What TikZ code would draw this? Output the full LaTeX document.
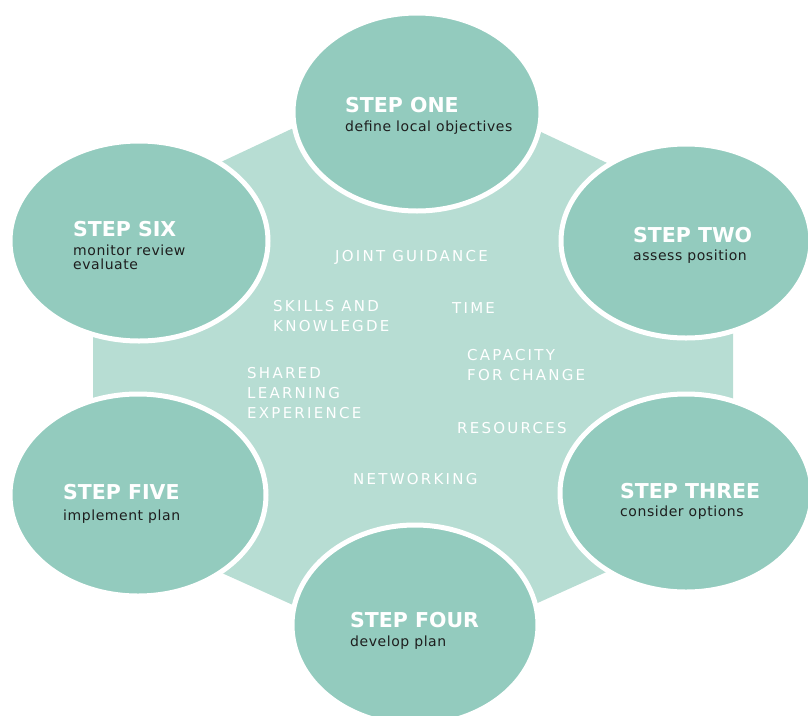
\documentclass[tikz,border=0pt]{standalone}
\usepackage{fontspec}
\setmainfont{DejaVu Sans}
\newfontfamily\headfont{DejaVu Sans}
\newfontfamily\subfont[LetterSpace=4]{DejaVu Sans}
\newfontfamily\midfont[LetterSpace=15]{DejaVu Sans}
\usetikzlibrary{shapes.geometric}
\definecolor{stepfill}{HTML}{93CBBE}
\definecolor{hexfill}{HTML}{B7DDD3}
\definecolor{subtext}{HTML}{1E1E1E}
\tikzset{
  stepell/.style={ellipse, fill=stepfill, draw=white, line width=5pt, inner sep=0pt},
  heading/.style={anchor=base west, inner sep=0pt, text=white, font=\headfont\fontsize{20.5}{24}\selectfont\bfseries},
  subline/.style={anchor=base west, inner sep=0pt, text=subtext, font=\subfont\fontsize{14}{16}\selectfont},
  midtext/.style={anchor=base west, inner sep=0pt, text=white, font=\midfont\fontsize{15}{18}\selectfont}
}
\begin{document}
\begin{tikzpicture}[x=1pt,y=-1pt]
\useasboundingbox (0,0) rectangle (808,715);
% central hexagon
\fill[hexfill] (413,72) -- (733,222) -- (733,515) -- (413,659) -- (93,515) -- (93,222) -- cycle;
% step ellipses
\node[stepell, minimum width=248pt, minimum height=198pt] (e1) at (417,112) {};
\node[stepell, minimum width=250pt, minimum height=194pt] (e2) at (686,241) {};
\node[stepell, minimum width=252pt, minimum height=198pt] (e3) at (686,493) {};
\node[stepell, minimum width=246pt, minimum height=200pt] (e4) at (415,625) {};
\node[stepell, minimum width=256pt, minimum height=202pt] (e5) at (138,495) {};
\node[stepell, minimum width=258pt, minimum height=200pt] (e6) at (139,241) {};
% step texts
\node[heading] (h1) at (345,112) {STEP ONE};
\node[subline] (s1) at (345,131) {define local objectives};
\node[heading] (h2) at (633,242.5) {STEP TWO};
\node[subline] (s2) at (633,260) {assess position};
\node[heading] (h3) at (620,498.5) {STEP THREE};
\node[subline] (s3) at (620,516) {consider options};
\node[heading] (h4) at (350,627.5) {STEP FOUR};
\node[subline] (s4) at (350,646) {develop plan};
\node[heading] (h5) at (63,499.5) {STEP FIVE};
\node[subline] (s5) at (63,520) {implement plan};
\node[heading] (h6) at (73,236.5) {STEP SIX};
\node[subline] (s6a) at (73,255) {monitor review};
\node[subline] (s6b) at (73,269) {evaluate};
% central texts
\node[midtext] (m1) at (335,261) {JOINT GUIDANCE};
\node[midtext] (m2a) at (273,311) {SKILLS AND};
\node[midtext] (m2b) at (273,331) {KNOWLEGDE};
\node[midtext] (m3) at (452,313) {TIME};
\node[midtext] (m4a) at (467,360) {CAPACITY};
\node[midtext] (m4b) at (467,380) {FOR CHANGE};
\node[midtext] (m5a) at (247,378) {SHARED};
\node[midtext] (m5b) at (247,398) {LEARNING};
\node[midtext] (m5c) at (247,418) {EXPERIENCE};
\node[midtext] (m6) at (457,433) {RESOURCES};
\node[midtext] (m7) at (353,484) {NETWORKING};
\end{tikzpicture}
\end{document}
